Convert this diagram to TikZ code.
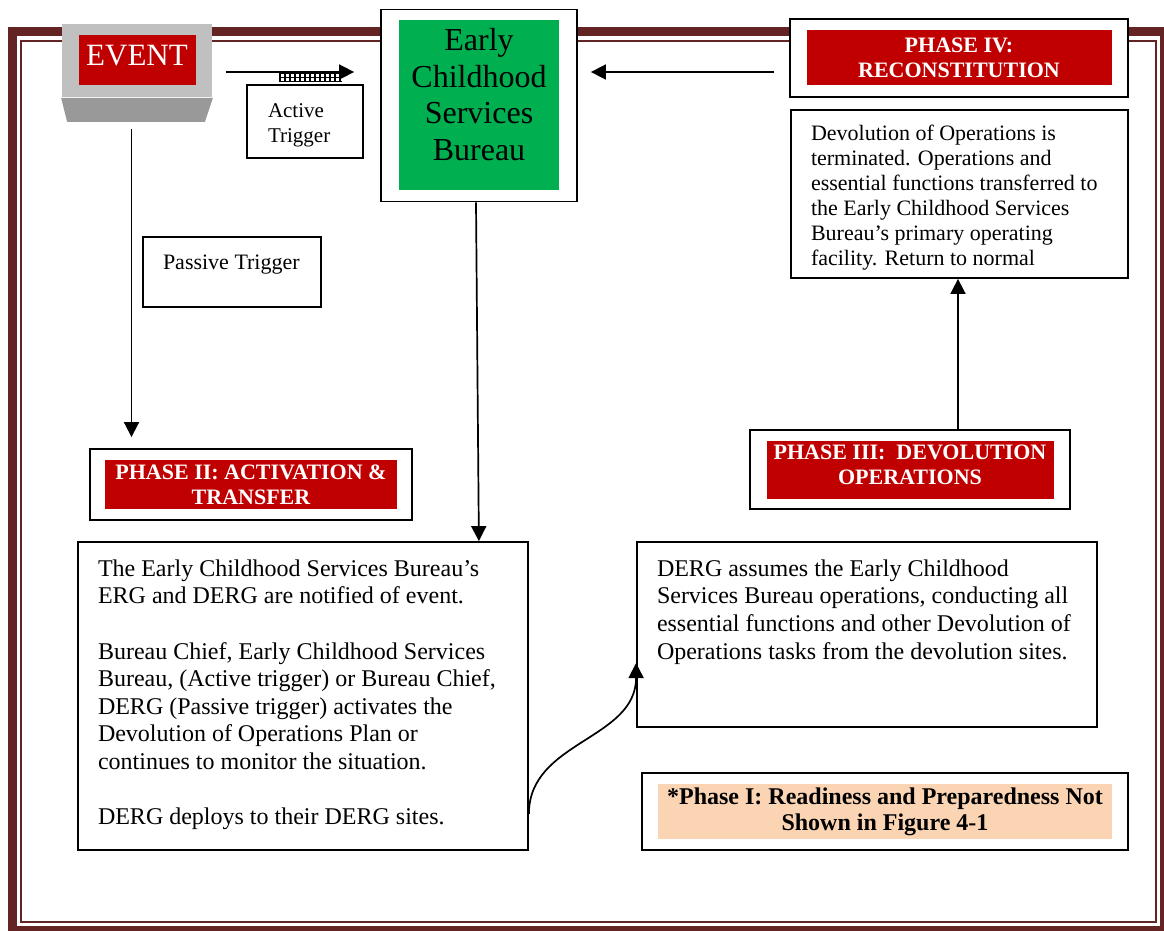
\documentclass[tikz,border=0pt]{standalone}
\usepackage{fontspec}
\setmainfont{Liberation Serif}
\usetikzlibrary{arrows.meta}

\definecolor{bordbrown}{HTML}{632423}
\definecolor{evlight}{HTML}{C0C0C0}
\definecolor{evdark}{HTML}{999999}
\definecolor{phasered}{HTML}{C00000}
\definecolor{bureaugreen}{HTML}{00B050}
\definecolor{peach}{HTML}{FBD4B4}

\newcommand{\boxtext}[3]{\parbox[c][#2][t]{#1}{\raggedright #3}}

\begin{document}
\begin{tikzpicture}[x=0.5pt, y=-0.5pt,
		boxframe/.style={draw, line width=0.9pt, fill=white, inner sep=0pt},
		inset/.style n args={3}{path picture={\fill[#1] ([shift={(#2,-#3)}]path picture bounding box.north west) rectangle ([shift={(-#2,#3)}]path picture bounding box.south east);}},
		phase/.style={boxframe, text=white, align=center, font=\fontsize{11}{12.5}\selectfont\bfseries},
		desc/.style={boxframe, inner xsep=10pt, inner ysep=8.8pt, font=\fontsize{12}{13.8}\selectfont},
		conn/.style={-{Triangle[length=7.5pt, width=7.5pt]}, line width=0.85pt},
		hatch/.style={line width=0.7pt},
		]
		\useasboundingbox (0,0) rectangle (1164,931);

		%Page border
		\draw[bordbrown, line width=4.5pt]	(12.5,31.5)	rectangle	(1164.5,930.5);
		\draw[bordbrown, line width=1pt]	(21,41.5)	rectangle	(1156,922);

		%Nodes
		\node[boxframe, draw=none, fill=evlight, inset={phasered}{8.25pt}{5.75pt}, minimum width=75pt, minimum height=36.5pt,
			text=white, font=\fontsize{15.5}{15.5}\selectfont, text height=12pt, text depth=6.5pt]	(event)	at	(137,60.5)	{EVENT};
		\fill[evdark]	(event.south west) -- (event.south east) -- ([shift={(-4pt,-12pt)}]event.south east) -- ([shift={(3pt,-12pt)}]event.south west) -- cycle;

		\node[boxframe, inset={bureaugreen}{9pt}{5.5pt}, inner xsep=4pt, inner ysep=9.6pt,
			font=\fontsize{16}{18.2}\selectfont]	(early)	at	(479,105.5)	{\boxtext{90pt}{76.8pt}{\centering Early\\Childhood\\Services\\Bureau}};

		\node[boxframe, inner xsep=10.5pt, inner ysep=9.3pt, font=\fontsize{10.5}{12.5}\selectfont]	(acttrig)	at	(305,121.5)	{\boxtext{37pt}{17.9pt}{Active\\Trigger}};
		\node[boxframe, inner xsep=10pt, inner ysep=9pt, font=\fontsize{11}{12.5}\selectfont]	(passtrig)	at	(232,272)	{\boxtext{69pt}{17pt}{\mbox{Passive Trigger}}};

		\node[phase, inset={phasered}{8.25pt}{5.75pt}, minimum width=169pt, minimum height=39pt]	(phaseIV)	at	(959,58)	{PHASE IV:\\RECONSTITUTION};
		\node[boxframe, inner xsep=10pt, inner ysep=7.5pt, font=\fontsize{11}{12.5}\selectfont]	(recover)	at	(959.5,194)	{\boxtext{148.5pt}{69pt}{Devolution of Operations is\\terminated. Operations and\\essential functions transferred to\\the Early Childhood Services\\Bureau’s primary operating\\facility. Return to normal}};

		\node[phase, inset={phasered}{8.25pt}{5.25pt}, minimum width=160pt, minimum height=39.5pt, text depth=5pt]	(phaseIII)	at	(910,469.5)	{PHASE III:~ DEVOLUTION\\OPERATIONS};
		\node[phase, inset={phasered}{7.5pt}{5.5pt}, minimum width=161pt, minimum height=35.5pt]	(phaseII)	at	(251,484.5)	{PHASE II: ACTIVATION \&\\TRANSFER};

		\node[desc]	(activate)	at	(303,696)	{\boxtext{205pt}{136.4pt}{The Early Childhood Services Bureau’s\\ERG and DERG are notified of event.\\[13.8pt]Bureau Chief, Early Childhood Services\\Bureau, (Active trigger) or Bureau Chief,\\DERG (Passive trigger) activates the\\Devolution of Operations Plan or\\continues to monitor the situation.\\[13.8pt]DERG deploys to their DERG sites.}};
		\node[desc]	(devolve)	at	(867,634.5)	{\boxtext{210pt}{74.9pt}{DERG assumes the Early Childhood\\Services Bureau operations, conducting all\\essential functions and other Devolution of\\Operations tasks from the devolution sites.}};

		\node[boxframe, inset={peach}{8pt}{5.5pt}, minimum width=243pt, minimum height=38.5pt, align=center,
			font=\fontsize{12}{13}\selectfont\bfseries]	(phaseI)	at	(885,811.5)	{*Phase I: Readiness and Preparedness Not\\Shown in Figure 4-1};

		%Arrows
		\coordinate (evfoot) at ([xshift=-2.75pt, yshift=-15.5pt]event.south);
		\draw[conn, shorten >=5.5pt]	(evfoot)	--	(evfoot |- phaseII.north);
		\draw[conn, shorten <=6.5pt, shorten >=13pt]	([yshift=-5.75pt]event.east)	--	([yshift=-5.75pt]event.east -| early.west);
		\foreach \hx in {0,...,12}
			\draw[hatch]	([shift={(-12.5pt+\hx*2.5pt,6pt)}]acttrig.north)	--	++(0pt,-5pt);
		\foreach \hy in {1.25pt,3.25pt,5.25pt}
			\draw[hatch]	([shift={(-12.5pt,\hy)}]acttrig.north)	--	++(31pt,0pt);
		\draw[conn, shorten <=7.5pt, shorten >=6.5pt]	([yshift=-7pt]phaseIV.west)	--	([yshift=-7pt]phaseIV.west -| early.east);
		\draw[conn]	([xshift=-1.5pt]early.south)	--	([xshift=-25pt]activate.north east);
		\draw[conn]	([xshift=24pt]phaseIII.north)	--	([xshift=24pt]phaseIII.north |- recover.south);
		\draw[conn]	([yshift=18.5pt]activate.south east)	.. controls +(0,-73) and +(0,77) ..	([yshift=-14.25pt]devolve.west);
	\end{tikzpicture}
\end{document}
